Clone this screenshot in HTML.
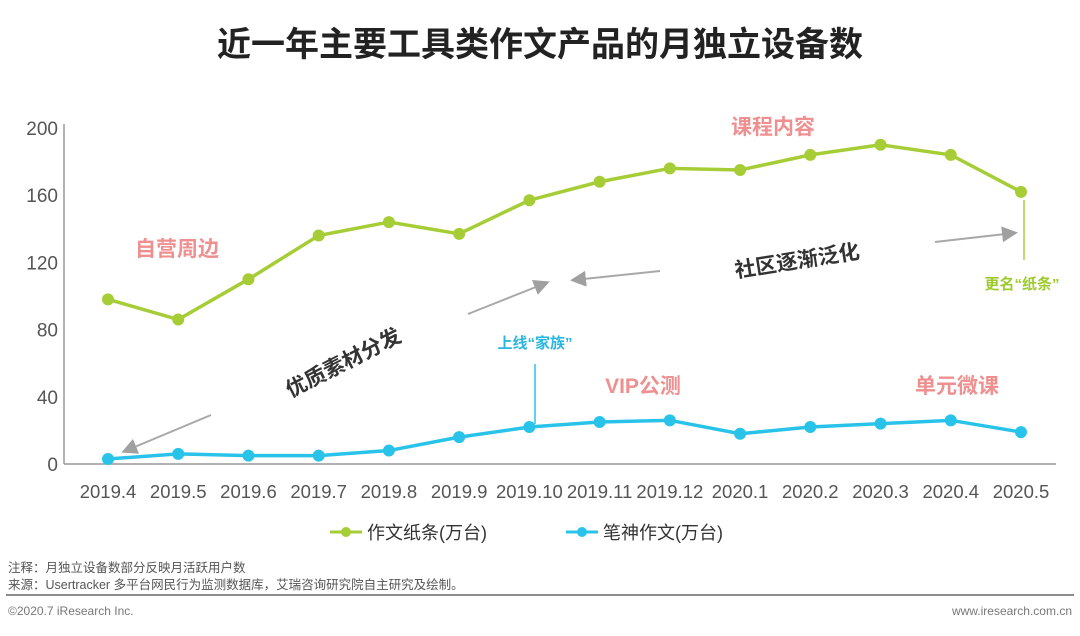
<!DOCTYPE html>
<html><head><meta charset="utf-8"><style>
body{margin:0;background:#fff;}
svg text{font-family:"Liberation Sans","Noto Sans CJK SC",sans-serif;}
</style></head><body>
<svg width="1080" height="631" viewBox="0 0 1080 631" xmlns="http://www.w3.org/2000/svg">
<text x="540" y="56" text-anchor="middle" font-size="34" font-weight="bold" fill="#222">近一年主要工具类作文产品的月独立设备数</text>
<g id="axes"></g>
<g id="series"></g>
<g>
<text x="177" y="256" text-anchor="middle" font-size="21" font-weight="bold" fill="#ef8f8f">自营周边</text>
<text x="773" y="134" text-anchor="middle" font-size="21" font-weight="bold" fill="#ef8f8f">课程内容</text>
<text x="643" y="393" text-anchor="middle" font-size="21" font-weight="bold" fill="#ef8f8f">VIP公测</text>
<text x="957" y="393" text-anchor="middle" font-size="21" font-weight="bold" fill="#ef8f8f">单元微课</text>
<text x="535" y="348" text-anchor="middle" font-size="15" font-weight="bold" fill="#29b6e0">上线“家族”</text>
<line x1="535" y1="364" x2="535" y2="424" stroke="#29c3ea" stroke-width="1.5"/>
<text x="1022" y="289" text-anchor="middle" font-size="15" font-weight="bold" fill="#9ccb2c">更名“纸条”</text>
<line x1="1024" y1="200" x2="1024" y2="260" stroke="#a6d13a" stroke-width="1.5"/>
<text x="343" y="370" text-anchor="middle" font-size="21" font-weight="bold" fill="#333" transform="rotate(-27 343 362)">优质素材分发</text>
<text x="797" y="268" text-anchor="middle" font-size="21" font-weight="bold" fill="#333" transform="rotate(-9 797 260)">社区逐渐泛化</text>
<defs><marker id="ah" markerWidth="8" markerHeight="8" refX="6" refY="4" orient="auto"><path d="M0,0 L8,4 L0,8 z" fill="#a0a0a0"/></marker></defs>
<g stroke="#a8a8a8" stroke-width="2" marker-end="url(#ah)">
<line x1="211" y1="415" x2="125" y2="451"/>
<line x1="468" y1="314" x2="546" y2="283"/>
<line x1="660" y1="271" x2="574" y2="280"/>
<line x1="935" y1="242" x2="1014" y2="233"/>
</g>
</g>
<g>
<g><line x1="330" y1="532" x2="362" y2="532" stroke="#a6cd36" stroke-width="3"/><circle cx="346" cy="532" r="5" fill="#a6cd36"/><text x="367" y="539" font-size="18" fill="#333">作文纸条(万台)</text></g>
<g><line x1="566" y1="532" x2="598" y2="532" stroke="#29c3ea" stroke-width="3"/><circle cx="582" cy="532" r="5" fill="#29c3ea"/><text x="603" y="539" font-size="18" fill="#333">笔神作文(万台)</text></g>
</g>
<text x="8" y="572" font-size="12.5" fill="#555">注释：月独立设备数部分反映月活跃用户数</text>
<text x="8" y="589" font-size="12.5" fill="#555">来源：Usertracker 多平台网民行为监测数据库，艾瑞咨询研究院自主研究及绘制。</text>
<line x1="6" y1="595" x2="1074" y2="595" stroke="#666" stroke-width="1.5"/>
<text x="8" y="615" font-size="12" fill="#777">©2020.7 iResearch Inc.</text>
<text x="1072" y="615" text-anchor="end" font-size="12" fill="#777">www.iresearch.com.cn</text>
</svg>
<script>
const categories=["2019.4","2019.5","2019.6","2019.7","2019.8","2019.9","2019.10","2019.11","2019.12","2020.1","2020.2","2020.3","2020.4","2020.5"];
const zhitiao=[98,86,110,136,144,137,157,168,176,175,184,190,184,162];
const bishen=[3,6,5,5,8,16,22,25,26,18,22,24,26,19];
const yTicks=[0,40,80,120,160,200];
const NS="http://www.w3.org/2000/svg";
const x=i=>108+i*(1021-108)/(categories.length-1);
const y=v=>464-v*(464-128)/200;
function mk(t,a,p){const e=document.createElementNS(NS,t);for(const k in a)e.setAttribute(k,a[k]);p.appendChild(e);return e;}
const ax=document.getElementById('axes');
const yl=mk('line',{x1:64,y1:124,x2:64,y2:464,stroke:'#999','stroke-width':1.5},ax);


const xl=mk('line',{x1:64,y1:464,x2:1056,y2:464,stroke:'#999','stroke-width':1.5},ax);


yTicks.forEach(v=>{const t=mk('text',{x:58,y:y(v)+7,'text-anchor':'end','font-size':19,fill:'#555'},ax);t.textContent=v;

});
categories.forEach((c,i)=>{const t=mk('text',{x:x(i),y:498,'text-anchor':'middle','font-size':18.5,fill:'#555'},ax);t.textContent=c;

});
const sg=document.getElementById('series');
function series(vals,col,name){
const g=mk('g',{},sg);


mk('polyline',{points:vals.map((v,i)=>x(i)+','+y(v)).join(' '),fill:'none',stroke:col,'stroke-width':3.5},g);
vals.forEach((v,i)=>{const c=mk('circle',{cx:x(i),cy:y(v),r:6,fill:col},g);

});
}
series(zhitiao,'#a6cd36','series-zhitiao');
series(bishen,'#29c3ea','series-bishen');
</script>
</body></html>
